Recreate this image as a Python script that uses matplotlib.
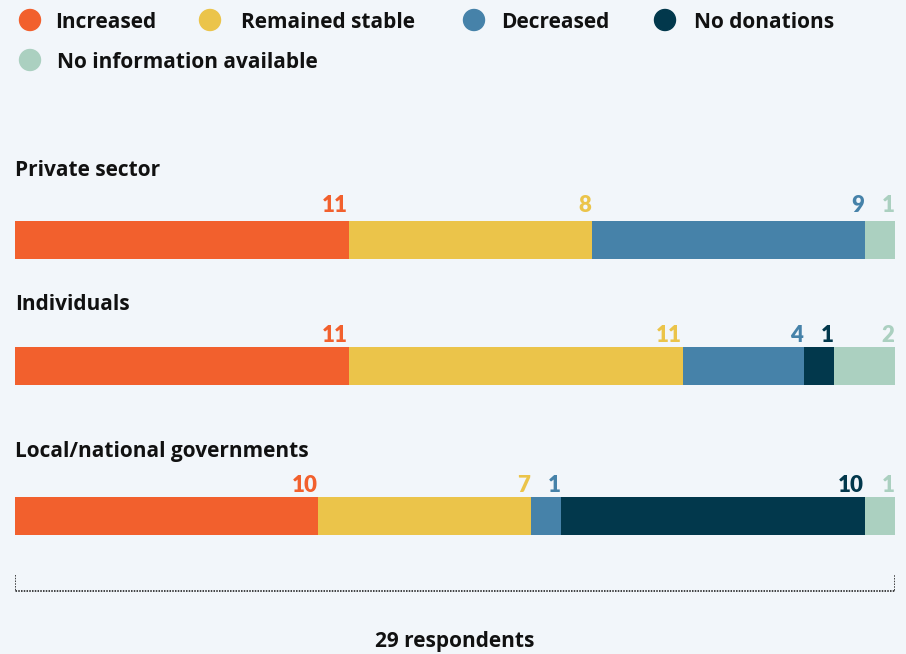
import matplotlib.pyplot as plt
from matplotlib.patches import Ellipse

categories = ["Private sector", "Individuals", "Local/national governments"]
series = ["Increased", "Remained stable", "Decreased", "No donations", "No information available"]
values = [
    [11, 8, 9, 0, 1],
    [11, 11, 4, 1, 2],
    [10, 7, 1, 10, 1],
]
total = 29
colors = ["#f2602d", "#ebc44a", "#4682a9", "#02384c", "#abd0c0"]
bg = "#f2f6fa"

fig = plt.figure(figsize=(9.06, 6.54), dpi=100, facecolor=bg)
# axes in pixel-like y units, x in respondents
ax = fig.add_axes([15 / 906, 0, 880 / 906, 1])
ax.set_xlim(0, total)
ax.set_ylim(654, 0)
ax.axis("off")
ax.patch.set_alpha(0)

bar_y = [240, 366, 516]
title_y = [170, 305, 452]
label_y = [206, 336, 486]
fam = ["Open Sans", "DejaVu Sans"]
numfam = ["Lato", "DejaVu Sans"]

for i, cat in enumerate(categories):
    ax.text(0, title_y[i], cat, fontsize=15, fontweight="bold", family=fam,
            va="center", ha="left", color="#111111")
    left = 0
    for j, v in enumerate(values[i]):
        if v == 0:
            continue
        ax.barh(bar_y[i], v, left=left, height=38, color=colors[j], linewidth=0)
        ax.text(left + v - 0.02, label_y[i], str(v), fontsize=16, fontweight="heavy",
                family=numfam, ha="right", va="center", color=colors[j])
        left += v

# bracket
ax.plot([0, 0, total, total], [575, 591, 591, 575], color="#111111", lw=1.1,
        linestyle=(0, (1, 0.8)), solid_capstyle="butt")
ax.text(total / 2, 641, f"{total} respondents", fontsize=15, fontweight="bold",
        family=fam, ha="center", va="center", color="#111111")

# legend
leg_pos = [(30, 55, 20), (210, 241, 20), (474, 501, 20), (665, 694, 20), (30, 57, 60)]
for (cx, tx, y), name, c in zip(leg_pos, series, colors):
    fig.patches.append(Ellipse((cx / 906, 1 - y / 654), 21 / 906, 21 / 654, color=c,
                               transform=fig.transFigure, figure=fig))
    fig.text(tx / 906, 1 - (y + 2) / 654, name, fontsize=15, fontweight="bold", family=fam,
             ha="left", va="center", color="#111111")

fig.savefig("out.png", dpi=100, facecolor=bg)
